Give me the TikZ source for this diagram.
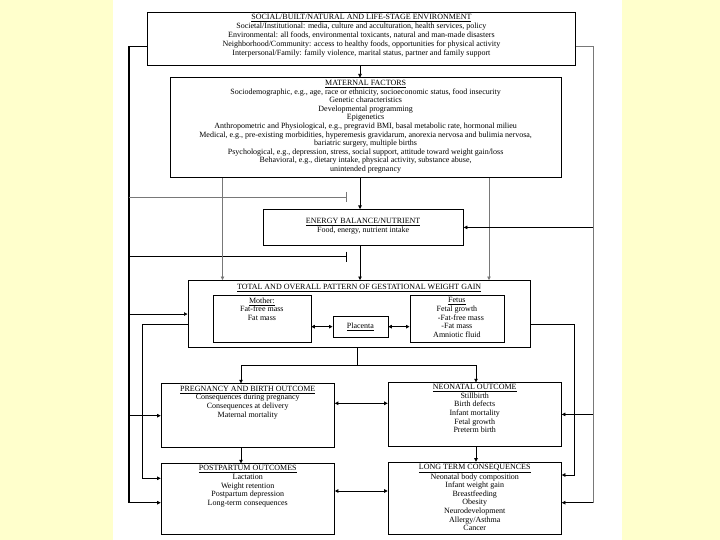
\documentclass[tikz,border=0pt]{standalone}
\usepackage{fontspec}
\setmainfont{Liberation Serif}
\usetikzlibrary{arrows.meta}

\definecolor{pageyellow}{RGB}{255,255,204}
\definecolor{linegray}{RGB}{120,120,120}

\begin{document}
\begin{tikzpicture}[x=1pt,y=-1pt,
  box/.style={draw,line width=0.8pt,inner sep=0pt,anchor=north west},
  lbl/.style={anchor=north,align=center,inner sep=0pt,font=\fontsize{8}{8.6}\selectfont},
  arr/.style={line width=0.6pt,-{Triangle[length=3.5pt,width=3.5pt]}},
  darr/.style={line width=0.9pt,{Triangle[length=3.5pt,width=3.5pt]}-{Triangle[length=3.5pt,width=3.5pt]}},
  rail/.style={line width=1.2pt},
  greyline/.style={line width=0.6pt,draw=linegray},
  stopbar/.style={-{Bar[width=10pt]}}]
\useasboundingbox (0,0) rectangle (720,540);

%Shape: page background
\fill [pageyellow] (0,0) rectangle (720,540);
\fill [white] (113,0) rectangle (621.5,540);

%Shape: boxes
\node [box,minimum width=428,minimum height=53] (env) at (147,12) {};
\node [box,minimum width=391.5,minimum height=99.5] (mat) at (169.5,77.5) {};
\node [box,minimum width=200.5,minimum height=36] (nrg) at (262.5,209) {};
\node [box,minimum width=342.5,minimum height=67.3] (gwg) at (187.5,280) {};
\node [box,minimum width=98,minimum height=47.5] (mother) at (212.5,294.5) {};
\node [box,minimum width=55,minimum height=20.5] (plac) at (332.5,316) {};
\node [box,minimum width=94,minimum height=47.5] (fetus) at (409.5,294.5) {};
\node [box,minimum width=173.3,minimum height=64] (preg) at (160.7,383.3) {};
\node [box,minimum width=173.3,minimum height=63.4] (neo) at (387.7,382.3) {};
\node [box,minimum width=173.3,minimum height=70.7] (post) at (160.7,463.3) {};
\node [box,minimum width=173.3,minimum height=72.3] (long) at (387.7,461.7) {};

%Coordinates for the rails and split points
\coordinate (lrTop) at (129,46.5);
\coordinate (lrBot) at (129,502.7);
\coordinate (rrTop) at (593,46.5);
\coordinate (rrBot) at (593,502.7);
\coordinate (midx) at (360,0);
\coordinate (lx) at (222.5,0);
\coordinate (rx) at (489,0);
\coordinate (stopA) at (347,197);
\coordinate (stopB) at (347,256.5);
\coordinate (sideL) at (142.3,324);
\coordinate (sideR) at (574,324);
\coordinate (postIn) at (142.3,478.3);
\coordinate (longIn) at (574,475);
\coordinate (split) at (357,365);
\coordinate (splitL) at (241,365);
\coordinate (splitR) at (476,365);
\coordinate (pn) at (0,403.3);
\coordinate (pl) at (0,491);

%Straight Lines: rails
\draw [rail] (env.west |- lrTop) -- (lrTop) -- (lrBot);
\draw [greyline] (env.east |- rrTop) -- (rrTop) -- (rrBot);
\draw [greyline,stopbar] (lrTop |- stopA) -- (stopA);
\draw [rail,stopbar] (lrTop |- stopB) -- (stopB);

%Straight Lines: arrows down the middle
\draw [arr] (env.south -| midx) -- (mat.north -| midx);
\draw [arr] (mat.south -| midx) -- (nrg.north -| midx);
\draw [arr] (nrg.south -| midx) -- (gwg.north -| midx);
\draw [arr,greyline] (mat.south -| lx) -- (gwg.north -| lx);
\draw [arr,greyline] (mat.south -| rx) -- (gwg.north -| rx);

%Straight Lines: arrows off the rails
\draw [arr] (rrTop |- nrg.east) -- (nrg.east);
\draw [arr] (lrTop |- gwg.west) -- (gwg.west);
\draw [arr] (lrTop |- preg.west) -- (preg.west);
\draw [arr] (lrBot) -- (lrBot -| post.west);
\draw [arr] (rrTop |- neo.east) -- (neo.east);
\draw [arr] (rrBot) -- (rrBot -| long.east);
\draw [arr] (gwg.west |- sideL) -- (sideL) -- (postIn) -- (postIn -| post.west);
\draw [arr] (gwg.east |- sideR) -- (sideR) -- (longIn) -- (longIn -| long.east);

%Straight Lines: outcomes
\draw [line width=0.6pt] (gwg.south -| split) -- (split);
\draw [arr] (split) -- (splitL) -- (splitL |- preg.north);
\draw [arr] (split) -- (splitR) -- (splitR |- neo.north);
\draw [arr] (preg.south -| splitL) -- (post.north -| splitL);
\draw [arr] (neo.south -| splitR) -- (long.north -| splitR);
\draw [darr] (preg.east |- pn) -- (neo.west |- pn);
\draw [darr] (post.east |- pl) -- (long.west |- pl);
\draw [darr] (mother.east |- plac.west) -- (plac.west);
\draw [darr] (plac.east) -- (fetus.west |- plac.east);

% Text Node
\node [lbl,font=\fontsize{8}{9}\selectfont] (envtxt) at ([yshift=-2.5pt]env.north) {\underline{SOCIAL/BUILT/NATURAL AND LIFE-STAGE ENVIRONMENT}\\
  Societal/Institutional: media, culture and acculturation, health services, policy\\
  Environmental: all foods, environmental toxicants, natural and man-made disasters\\
  Neighborhood/Community: access to healthy foods, opportunities for physical activity\\
  Interpersonal/Family: family violence, marital status, partner and family support};
% Text Node
\node [lbl] (mattxt) at ([yshift=-2.5pt]mat.north) {\underline{MATERNAL FACTORS}\\
  Sociodemographic, e.g., age, race or ethnicity, socioeconomic status, food insecurity\\
  Genetic characteristics\\
  Developmental programming\\
  Epigenetics\\
  Anthropometric and Physiological, e.g., pregravid BMI, basal metabolic rate, hormonal milieu\\
  Medical, e.g., pre-existing morbidities, hyperemesis gravidarum, anorexia nervosa and bulimia nervosa,\\
  bariatric surgery, multiple births\\
  Psychological, e.g., depression, stress, social support, attitude toward weight gain/loss\\
  Behavioral, e.g., dietary intake, physical activity, substance abuse,\\
  unintended pregnancy};
% Text Node
\node [lbl,anchor=center] (nrgtxt) at ([yshift=1pt]nrg.center) {\underline{ENERGY BALANCE/NUTRIENT}\\
  Food, energy, nutrient intake};
% Text Node
\node [lbl] (gwgtxt) at ([yshift=-4pt]gwg.north) {\underline{TOTAL AND OVERALL PATTERN OF GESTATIONAL WEIGHT GAIN}};
% Text Node
\node [lbl] (mothertxt) at ([yshift=-3pt]mother.north) {\underline{Mother:}\\ Fat-free mass\\ Fat mass};
% Text Node
\node [lbl,anchor=center] (plactxt) at (plac.center) {\underline{Placenta}};
% Text Node
\node [lbl] (fetustxt) at ([yshift=-3pt]fetus.north) {\underline{Fetus}\\ Fetal growth\\ \hspace{8pt}-Fat-free mass\\ -Fat mass\\ Amniotic fluid};
% Text Node
\node [lbl] (pregtxt) at ([yshift=-2.5pt]preg.north) {\underline{PREGNANCY AND BIRTH OUTCOME}\\
  Consequences during pregnancy\\ Consequences at delivery\\ Maternal mortality};
% Text Node
\node [lbl] (neotxt) at ([yshift=-2pt]neo.north) {\underline{NEONATAL OUTCOME}\\
  Stillbirth\\ Birth defects\\ Infant mortality\\ Fetal growth\\ Preterm birth};
% Text Node
\node [lbl] (posttxt) at ([yshift=-2pt]post.north) {\underline{POSTPARTUM OUTCOMES}\\
  Lactation\\ Weight retention\\ Postpartum depression\\ Long-term consequences};
% Text Node
\node [lbl] (longtxt) at ([yshift=-2pt]long.north) {\underline{LONG TERM CONSEQUENCES}\\
  Neonatal body composition\\ Infant weight gain\\ Breastfeeding\\ Obesity\\
  Neurodevelopment\\ Allergy/Asthma\\ Cancer};

\end{tikzpicture}
\end{document}
